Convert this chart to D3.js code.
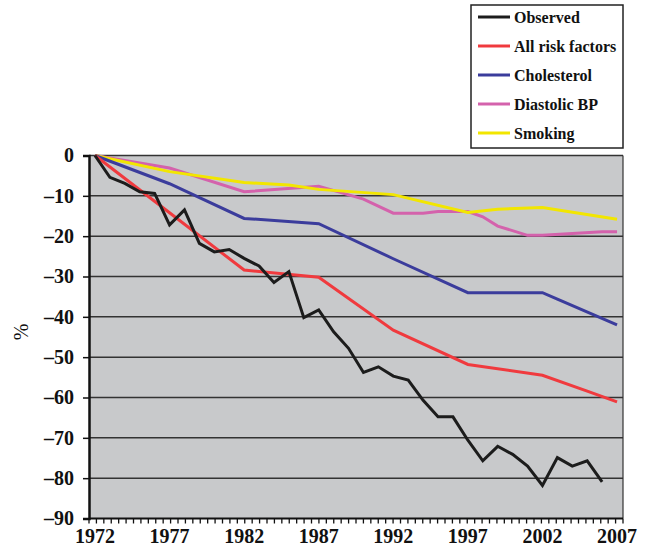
<!DOCTYPE html>
<html>
<head>
<meta charset="utf-8">
<script src="https://cdn.jsdelivr.net/npm/d3@7"></script>
<style>
  html, body { margin: 0; padding: 0; background: #fff; }
  svg { display: block; }
</style>
</head>
<body>
<svg id="chart" width="647" height="550"></svg>
<script>
// ---- Data ----
const yTicks = [0, -10, -20, -30, -40, -50, -60, -70, -80, -90];
const xTickLabels = [1972, 1977, 1982, 1987, 1992, 1997, 2002, 2007];

const observedYears = d3.range(1972, 2007);
const observedValues = [0, -5.4, -6.9, -9.0, -9.4, -17.2, -13.5, -21.8, -23.9, -23.3,
  -25.5, -27.4, -31.5, -28.8, -40.2, -38.3, -43.7, -47.8, -53.8, -52.4,
  -54.7, -55.7, -60.7, -64.8, -64.8, -70.6, -75.7, -72.1, -74.1, -77.0,
  -81.8, -74.9, -77.0, -75.7, -80.9];

const riskYears = [1972, 1977, 1982, 1987, 1992, 1997, 2002, 2005, 2007];
const riskValues = [0, -14.2, -28.4, -30.2, -43.3, -51.8, -54.5, -58.4, -61.1];

const cholYears = [1972, 1977, 1982, 1987, 1992, 1997, 2002, 2003, 2007];
const cholValues = [0, -7.0, -15.6, -16.9, -25.6, -34.0, -34.0, -35.6, -42.0];

const bpYears = [1972, 1977, 1982, 1987, 1990, 1992, 1994, 1995, 1997, 1998, 1999, 2001, 2002, 2006, 2007];
const bpValues = [0, -3.1, -9.0, -7.6, -10.8, -14.3, -14.3, -13.9, -13.9, -15.2, -17.5, -19.8, -19.8, -18.9, -18.9];

const smokeYears = [1972, 1977, 1982, 1985, 1987, 1992, 1997, 1999, 2002, 2007];
const smokeValues = [0, -4.0, -6.7, -7.3, -8.4, -9.7, -14.1, -13.3, -12.9, -15.8];

const seriesNames = ["Observed", "All risk factors", "Cholesterol", "Diastolic BP", "Smoking"];
const seriesColors = ["#1c1c1c", "#f03a3e", "#3b3c9c", "#d462ac", "#f2e600"];

// ---- Layout ----
const svg = d3.select("#chart");
const plot = { left: 89, right: 623, top: 155.5, bottom: 518.5 };

const x = d3.scaleLinear().domain([1971.6, 2007.4]).range([plot.left, plot.right]);
const y = d3.scaleLinear().domain([-90, 0]).range([plot.bottom, plot.top]);

const serif = "'Liberation Serif', 'Times New Roman', serif";

// plot background
svg.append("rect")
  .attr("x", plot.left).attr("y", plot.top)
  .attr("width", plot.right - plot.left).attr("height", plot.bottom - plot.top)
  .attr("fill", "#c8c9cb");

// grid lines
svg.append("g").selectAll("line")
  .data(yTicks.filter(d => d > -90))
  .join("line")
  .attr("x1", plot.left).attr("x2", plot.right)
  .attr("y1", d => y(d)).attr("y2", d => y(d))
  .attr("stroke", "#333").attr("stroke-width", 1.5);

// right border
svg.append("line")
  .attr("x1", plot.right).attr("x2", plot.right)
  .attr("y1", plot.top).attr("y2", plot.bottom)
  .attr("stroke", "#333").attr("stroke-width", 1.2);

// series lines
const line = d3.line().x(d => x(d[0])).y(d => y(d[1]));
const seriesData = [
  d3.zip(observedYears, observedValues),
  d3.zip(riskYears, riskValues),
  d3.zip(cholYears, cholValues),
  d3.zip(bpYears, bpValues),
  d3.zip(smokeYears, smokeValues)
];
const drawOrder = [3, 4, 2, 1, 0];
drawOrder.forEach(i => {
  svg.append("path")
    .datum(seriesData[i])
    .attr("d", line)
    .attr("fill", "none")
    .attr("stroke", seriesColors[i])
    .attr("stroke-width", 3)
    .attr("stroke-linejoin", "miter");
});

// y axis
const yAxis = svg.append("g")
  .attr("transform", `translate(${plot.left},0)`)
  .call(d3.axisLeft(y).tickValues(yTicks).tickSize(6).tickPadding(9)
    .tickFormat(d => d === 0 ? "0" : "\u2013" + Math.abs(d)));
yAxis.select(".domain").attr("stroke", "#111").attr("stroke-width", 2.5);
yAxis.selectAll(".tick line").attr("stroke", "#111").attr("stroke-width", 1.5);
yAxis.selectAll("text")
  .attr("font-family", serif).attr("font-weight", "bold")
  .attr("font-size", 20).attr("fill", "#111");

// x axis (minor ticks every half year, labels every 5 years)
const tickIdx = d3.scaleLinear().domain([0, 72]).range([plot.left, plot.right]);
svg.append("line")
  .attr("x1", plot.left).attr("x2", plot.right)
  .attr("y1", plot.bottom).attr("y2", plot.bottom)
  .attr("stroke", "#111").attr("stroke-width", 2);
svg.append("g").selectAll("line")
  .data(d3.range(0, 73))
  .join("line")
  .attr("x1", d => tickIdx(d)).attr("x2", d => tickIdx(d))
  .attr("y1", plot.bottom).attr("y2", plot.bottom + 5)
  .attr("stroke", "#111").attr("stroke-width", 1.3);
svg.append("g").selectAll("text")
  .data(xTickLabels)
  .join("text")
  .attr("x", d => x(d)).attr("y", 543)
  .attr("text-anchor", "middle")
  .attr("font-family", serif).attr("font-weight", "bold")
  .attr("font-size", 20).attr("fill", "#111")
  .text(d => d);

// y axis title
svg.append("text")
  .attr("transform", "translate(28,332) rotate(-90)")
  .attr("text-anchor", "middle")
  .attr("font-family", serif).attr("font-size", 20).attr("fill", "#111")
  .text("%");

// legend
const legend = svg.append("g");
legend.append("rect")
  .attr("x", 471).attr("y", 5).attr("width", 152).attr("height", 143)
  .attr("fill", "#fff").attr("stroke", "#222").attr("stroke-width", 1.5);
const legY = d3.scalePoint().domain(seriesNames).range([17, 133]);
seriesNames.forEach((name, i) => {
  legend.append("line")
    .attr("x1", 478).attr("x2", 510)
    .attr("y1", legY(name)).attr("y2", legY(name))
    .attr("stroke", seriesColors[i]).attr("stroke-width", 3);
  legend.append("text")
    .attr("x", 514).attr("y", legY(name))
    .attr("dy", "0.35em")
    .attr("font-family", serif).attr("font-weight", "bold")
    .attr("font-size", 16).attr("fill", "#111")
    .text(name);
});
</script>
</body>
</html>
